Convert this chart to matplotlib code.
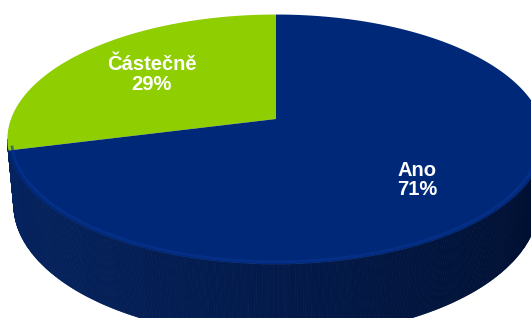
import numpy as np
import matplotlib
matplotlib.use("Agg")
import matplotlib.pyplot as plt
from matplotlib.colors import to_rgb

# ---- data ----
categories = ["Částečně", "Ano"]
values = [29, 71]
top_colors = ["#8fce00", "#002878"]
side_light = ["#05235f", "#05235f"]
side_dark = ["#000f30", "#000f30"]
label_nudge_px = [(0, 0), (0, 11)]

# ---- geometry (layout / style) ----
W, H = 531, 318
CX, CY, S = 276, 119, 265          # pie apex on screen, horizontal radius
PHI = np.radians(27.3)             # viewing elevation
DIST = 5.44                        # camera distance (perspective)
DEPTH = 0.28                       # thickness of the pie
START = 90.0
LABEL_R = 0.63

sphi, cphi = np.sin(PHI), np.cos(PHI)


def proj(X, Y, Z):
    X, Y, Z = np.asarray(X, float), np.asarray(Y, float), np.asarray(Z, float)
    u = Y * sphi + Z * cphi
    w = DIST + Y * cphi - Z * sphi
    return CX + S * X * DIST / w, CY - S * u * DIST / w


fig = plt.figure(figsize=(W / 100, H / 100), dpi=100)
ax = fig.add_axes([0, 0, 1, 1])
ax.set_xlim(0, W)
ax.set_ylim(H, 0)
ax.axis("off")

fr = np.array(values, float) / np.sum(values)
bounds = START + 360 * np.concatenate([[0], np.cumsum(fr)])

# visible side range (silhouette tangents)
delta = np.degrees(np.arcsin(cphi / DIST))
vis_lo, vis_hi = 180 + delta, 360 - delta


def mix(c1, c2, t):
    a, b = np.array(to_rgb(c1)), np.array(to_rgb(c2))
    return tuple(a + (b - a) * t)


# ---- side walls ----
for i in range(len(values)):
    a0, a1 = bounds[i], bounds[i + 1]
    for shift in (0, 360, -360):
        lo = max(a0 + shift, vis_lo)
        hi = min(a1 + shift, vis_hi)
        if hi <= lo:
            continue
        angs = np.linspace(lo, hi, max(2, int((hi - lo) / 0.5) + 1))
        for k in range(len(angs) - 1):
            t1, t2 = np.radians(angs[k]), np.radians(angs[k + 1])
            X = np.array([np.cos(t1), np.cos(t2), np.cos(t2), np.cos(t1)])
            Y = np.array([np.sin(t1), np.sin(t2), np.sin(t2), np.sin(t1)])
            Z = np.array([0, 0, -DEPTH, -DEPTH])
            xs, ys = proj(X, Y, Z)
            tt = (np.cos((t1 + t2) / 2) + 1) / 2
            col = mix(side_light[i], side_dark[i], tt ** 1.2)
            ax.fill(xs, ys, color=col, lw=0.6, ec=col, zorder=1)

# ---- top faces ----
for i in range(len(values)):
    a0, a1 = bounds[i], bounds[i + 1]
    angs = np.radians(np.linspace(a0, a1, 300))
    X = np.concatenate([[0], np.cos(angs)])
    Y = np.concatenate([[0], np.sin(angs)])
    xs, ys = proj(X, Y, np.zeros_like(X))
    ax.fill(xs, ys, color=top_colors[i], lw=0, zorder=2)

# subtle lighter bevel at front edge of top face
angs = np.radians(np.linspace(vis_lo + 3, vis_hi, 300))
xs, ys = proj(0.985 * np.cos(angs), 0.985 * np.sin(angs), np.zeros_like(angs))
ax.plot(xs, ys, color="#0a3590", lw=2.0, alpha=0.6, zorder=3, solid_capstyle="butt")

# ---- labels ----
for i in range(len(values)):
    mid = np.radians((bounds[i] + bounds[i + 1]) / 2)
    lx, ly = proj(LABEL_R * np.cos(mid), LABEL_R * np.sin(mid), 0.0)
    dx, dy = label_nudge_px[i]
    ax.text(float(lx) + dx, float(ly) + dy,
            f"{categories[i]}\n{values[i]}%",
            ha="center", va="center", color="white", fontsize=14.5,
            fontweight="bold", family=["Liberation Sans", "DejaVu Sans"],
            linespacing=1.05, zorder=5)

fig.savefig("out.png", dpi=100, facecolor="white")
